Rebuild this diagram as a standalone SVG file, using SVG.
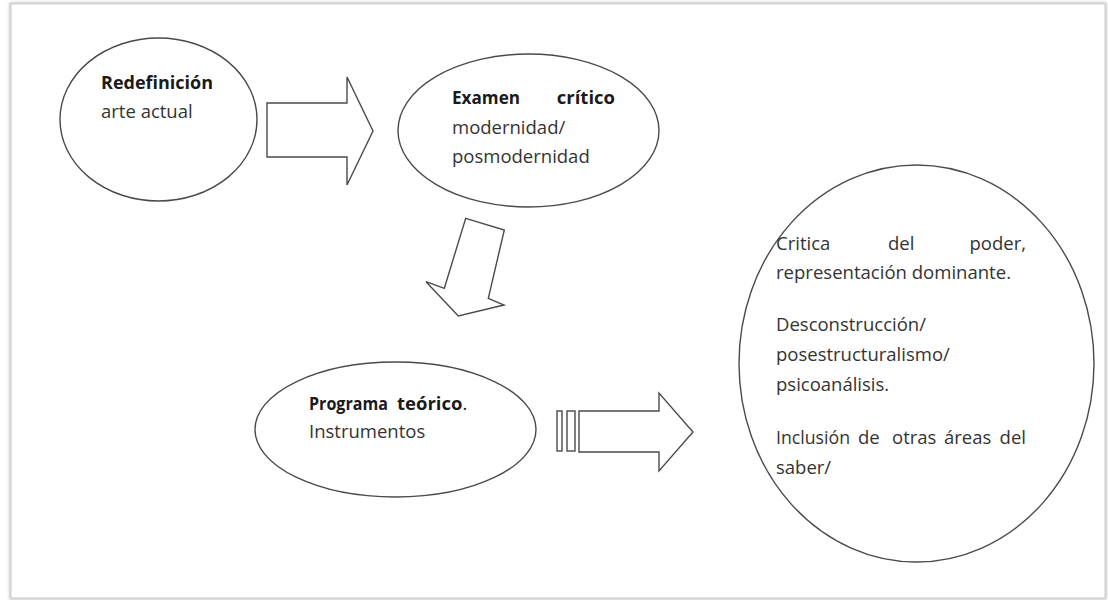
<svg xmlns="http://www.w3.org/2000/svg" width="1108" height="600" viewBox="0 0 1108 600">
<defs>
<style>
.shape{fill:#fff;stroke:#4a4a4a;stroke-width:1.4}
.t{font-family:"Open Sans","Noto Sans","Liberation Sans",sans-serif;font-size:18.5px;fill:#333}
.b{font-weight:bold;fill:#1a1a1a}
</style>
<filter id="sh" x="-5%" y="-5%" width="110%" height="110%">
<feGaussianBlur stdDeviation="1.5"/>
</filter>
</defs>
<rect x="0" y="0" width="1108" height="600" fill="#fff"/>
<g id="frame">
<rect x="11" y="4" width="1094" height="594" fill="none" stroke="#bbb" stroke-width="3" filter="url(#sh)"/>
<rect x="11" y="4" width="1094" height="594" fill="#fff" stroke="#d0d0d0" stroke-width="1"/>
</g>
<g id="connectors">
<polygon class="shape" points="267,103 347,103 347,77 373,131 347,185 347,157 267,157"/>
<polygon class="shape" points="465.7,218.3 504.3,230 488.3,298.3 504,305 458.3,316 426,281.7 444.3,288.3"/>
<rect class="shape" x="557" y="411" width="5" height="40"/>
<rect class="shape" x="567" y="411" width="8" height="40"/>
<polygon class="shape" points="579,411 659,411 659,393 693,432 659,471 659,452 579,452"/>
</g>
<g id="node-redefinicion">
<ellipse class="shape" cx="158.5" cy="119.5" rx="98.5" ry="81.5"/>
<text class="t b" x="101" y="89" textLength="112" lengthAdjust="spacingAndGlyphs">Redefinición</text>
<text class="t" x="101" y="118">arte actual</text>
</g>
<g id="node-examen">
<ellipse class="shape" cx="528.5" cy="130.5" rx="130.5" ry="76.5"/>
<text class="t b" x="452" y="104" textLength="68" lengthAdjust="spacingAndGlyphs">Examen</text>
<text class="t b" x="615" y="104" text-anchor="end">crítico</text>
<text class="t" x="452" y="134">modernidad/</text>
<text class="t" x="452" y="163">posmodernidad</text>
</g>
<g id="node-programa">
<ellipse class="shape" cx="395.5" cy="429.5" rx="140.5" ry="67.5"/>
<text class="t b" x="309" y="410" textLength="79" lengthAdjust="spacingAndGlyphs">Programa</text>
<text class="t b" x="397" y="410">teórico<tspan style="font-weight:normal">.</tspan></text>
<text class="t" x="309" y="438">Instrumentos</text>
</g>
<g id="node-critica">
<ellipse class="shape" cx="916.5" cy="363.5" rx="177.5" ry="198.5"/>
<text class="t" x="776" y="250">Critica</text>
<text class="t" x="888" y="250">del</text>
<text class="t" x="1026" y="250" text-anchor="end">poder,</text>
<text class="t" x="776" y="279" textLength="235" lengthAdjust="spacingAndGlyphs">representación dominante.</text>
<text class="t" x="776" y="331">Desconstrucción/</text>
<text class="t" x="776" y="361">posestructuralismo/</text>
<text class="t" x="776" y="391">psicoanálisis.</text>
<text class="t" x="776" y="444" textLength="74" lengthAdjust="spacingAndGlyphs">Inclusión</text>
<text class="t" x="858" y="444">de</text>
<text class="t" x="892" y="444">otras</text>
<text class="t" x="944" y="444">áreas</text>
<text class="t" x="1026" y="444" text-anchor="end">del</text>
<text class="t" x="776" y="474">saber/</text>
</g>
</svg>
